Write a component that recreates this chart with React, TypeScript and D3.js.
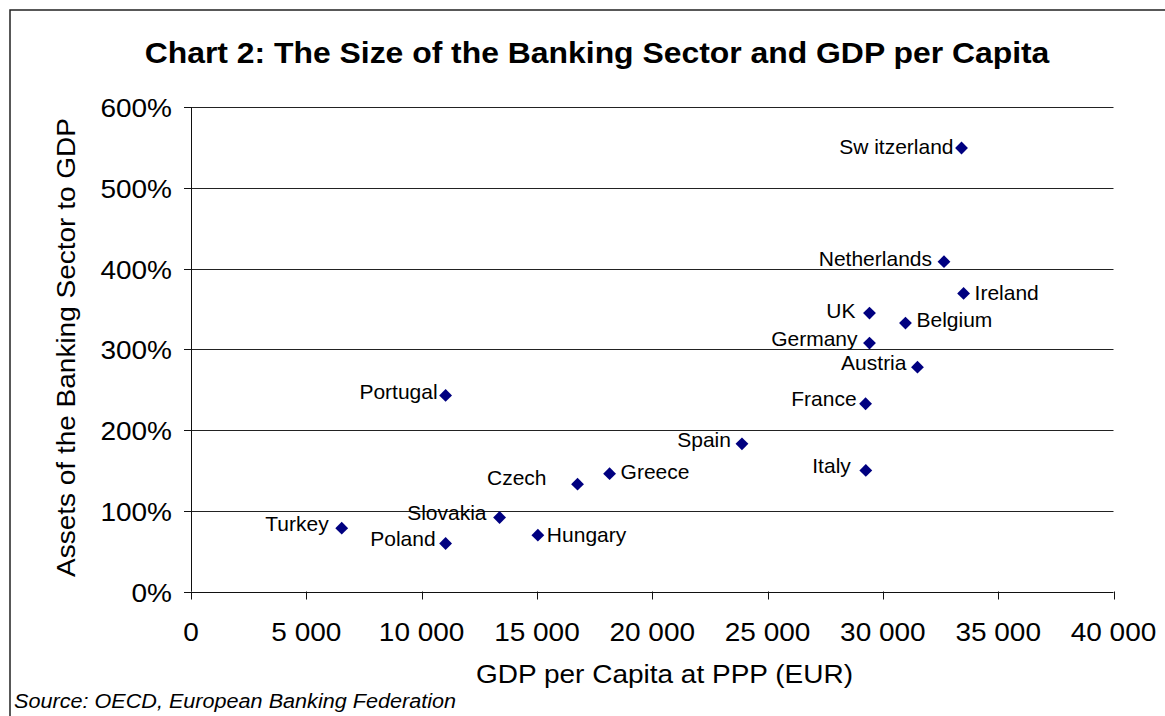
import React from "react";
import * as d3 from "d3";

const countries = ["Turkey", "Poland", "Portugal", "Slovakia", "Hungary", "Czech", "Greece", "Spain", "Italy", "France", "Germany", "UK", "Belgium", "Austria", "Netherlands", "Switzerland", "Ireland"];
const labels = ["Turkey", "Poland", "Portugal", "Slovakia", "Hungary", "Czech", "Greece", "Spain", "Italy", "France", "Germany", "UK", "Belgium", "Austria", "Netherlands", "Sw itzerland", "Ireland"];
const gdpPerCapita = [6535, 11040, 11040, 13380, 15040, 16760, 18150, 23890, 29260, 29250, 29420, 29420, 30980, 31500, 32650, 33410, 33500];
const bankAssetsToGdp = [0.785, 0.595, 2.43, 0.917, 0.698, 1.33, 1.46, 1.83, 1.50, 2.327, 3.078, 3.45, 3.326, 2.78, 4.087, 5.496, 3.694];

const xTicks = [0, 5000, 10000, 15000, 20000, 25000, 30000, 35000, 40000];
const yTicks = [0, 1, 2, 3, 4, 5, 6];

// label placement (side, horizontal gap, vertical shift) per point
const labelSide = ["left", "left", "left", "left", "right", "left", "right", "left", "left", "left", "left", "left", "right", "left", "left", "left", "right"];
const labelGap = [13, 10, 8, 13, 9, 31, 11, 11, 15, 9, 12, 14, 11, 11, 12, 8, 11];
const labelShift = [-5, -4.5, -4, -5, -1, -7, -2.5, -4, -5.3, -5.5, -5, -2.5, -4, -4.5, -3.5, -1.5, -1];

const W = 1165;
const H = 716;
const FONT = "'Liberation Sans', Arial, Helvetica, sans-serif";
const SX = 1.12;

export default function App() {
  const x = d3.scaleLinear().domain([0, 40000]).range([191, 1113.5]);
  const y = d3.scaleLinear().domain([0, 6]).range([591.5, 107.3]);
  const diamond = d3.symbol().type(d3.symbolDiamond2).size(105)() as string;
  const fmtX = (v: number) => d3.format(",")(v).replace(/,/g, " ");
  const fmtY = (v: number) => d3.format(".0%")(v);
  const [x0, x1] = x.range();

  return (
    <svg width={W} height={H} style={{ position: "absolute", left: 0, top: 0, background: "#fff" }} fontFamily={FONT}>
      <rect x={0} y={0} width={W} height={H} fill="#fff" />
      <rect x={10} y={10} width={W + 20} height={H + 20} fill="none" stroke="#222" strokeWidth={1.5} />

      <text transform={`translate(597,63) scale(1.1,1)`} textAnchor="middle" fontSize={29} fontWeight="bold" fill="#000">
        Chart 2: The Size of the Banking Sector and GDP per Capita
      </text>

      {/* gridlines */}
      {yTicks.filter((t) => t > 0).map((t) => (
        <line key={"g" + t} x1={x0} x2={x1} y1={Math.round(y(t)) + 0.5} y2={Math.round(y(t)) + 0.5} stroke="#222" strokeWidth={1} />
      ))}

      {/* axes */}
      <line x1={x0 + 0.5} x2={x0 + 0.5} y1={y(6)} y2={y(0)} stroke="#111" strokeWidth={1} />
      <line x1={x0} x2={x1} y1={Math.round(y(0)) + 0.5} y2={Math.round(y(0)) + 0.5} stroke="#111" strokeWidth={1} />
      {yTicks.map((t) => (
        <g key={"yt" + t}>
          <line x1={x0 - 7} x2={x0} y1={Math.round(y(t)) + 0.5} y2={Math.round(y(t)) + 0.5} stroke="#111" />
          <text transform={`translate(172,${y(t) + 10}) scale(${SX},1)`} textAnchor="end" fontSize={25} fill="#000">
            {fmtY(t)}
          </text>
        </g>
      ))}
      {xTicks.map((t) => (
        <g key={"xt" + t}>
          <line x1={Math.round(x(t)) + 0.5} x2={Math.round(x(t)) + 0.5} y1={y(0)} y2={y(0) + 8} stroke="#111" />
          <text transform={`translate(${x(t)},641) scale(${SX},1)`} textAnchor="middle" fontSize={25} fill="#000">
            {fmtX(t)}
          </text>
        </g>
      ))}

      <text transform={`translate(664.5,683) scale(${SX},1)`} textAnchor="middle" fontSize={25} fill="#000">
        GDP per Capita at PPP (EUR)
      </text>
      <text transform={`translate(75,347.5) rotate(-90) scale(${SX},1)`} textAnchor="middle" fontSize={25} fill="#000">
        Assets of the Banking Sector to GDP
      </text>

      {/* points */}
      {countries.map((c, i) => {
        const px = x(gdpPerCapita[i]);
        const py = y(bankAssetsToGdp[i]);
        const left = labelSide[i] === "left";
        return (
          <g key={c}>
            <path d={diamond} transform={`translate(${px},${py})`} fill="#000080" />
            <text
              x={left ? px - labelGap[i] : px + labelGap[i]}
              y={py + labelShift[i] + 7.5}
              textAnchor={left ? "end" : "start"}
              fontSize={21}
              fill="#000"
            >
              {labels[i]}
            </text>
          </g>
        );
      })}

      <text transform={`translate(14,707.5) scale(1.03,1)`} fontSize={21} fontStyle="italic" fill="#000">
        Source: OECD, European Banking Federation
      </text>
    </svg>
  );
}
